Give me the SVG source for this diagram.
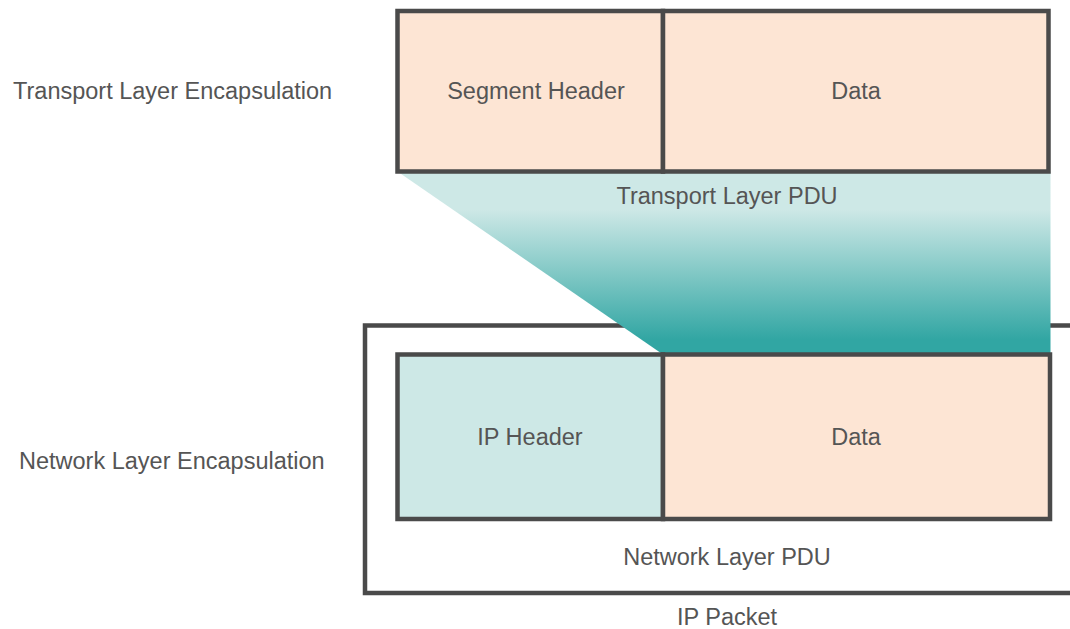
<svg xmlns="http://www.w3.org/2000/svg" width="1070" height="629" viewBox="0 0 1070 629">
  <style>
    .box { stroke: #4a4a4a; stroke-width: 4.5; }
    .peach { fill: #fde5d4; }
    .lteal { fill: #cde8e6; }
    .line { fill: none; stroke: #4a4a4a; stroke-width: 4.5; }
    text { font-family: "Liberation Sans", Arial, sans-serif; font-size: 23.5px; fill: #555555; }
    .c { text-anchor: middle; }
  </style>
  <defs>
    <linearGradient id="tealGrad" gradientUnits="userSpaceOnUse" x1="0" y1="210" x2="0" y2="340">
      <stop offset="0" stop-color="#cde8e6"/>
      <stop offset="1" stop-color="#31a6a3"/>
    </linearGradient>
  </defs>
  <rect width="1070" height="629" fill="#ffffff"/>

  <g id="ip-packet">
    <path class="line" d="M1072,325.5 H365 V593 H1072"/>
    <text class="c" x="727" y="625">IP Packet</text>
  </g>

  <g id="connectors">
    <polygon points="397.5,171.5 1050.5,171.5 1050.5,354.5 663,354.5" fill="url(#tealGrad)"/>
  </g>

  <g id="transport-label">
    <text x="13" y="99">Transport Layer Encapsulation</text>
  </g>
  <g id="network-label">
    <text x="19" y="469">Network Layer Encapsulation</text>
  </g>

  <g id="segment-header">
    <rect class="box peach" x="397.5" y="11" width="265.5" height="160.5"/>
    <text class="c" x="536" y="99">Segment Header</text>
  </g>
  <g id="segment-data">
    <rect class="box peach" x="663" y="11" width="385.5" height="160.5"/>
    <text class="c" x="856" y="99">Data</text>
  </g>
  <g id="transport-pdu">
    <text class="c" x="727" y="204">Transport Layer PDU</text>
  </g>

  <g id="ip-header">
    <rect class="box lteal" x="397.5" y="354.5" width="265.5" height="164.5"/>
    <text class="c" x="530" y="445">IP Header</text>
  </g>
  <g id="ip-data">
    <rect class="box peach" x="663" y="354.5" width="387" height="164.5"/>
    <text class="c" x="856" y="445">Data</text>
  </g>
  <g id="network-pdu">
    <text class="c" x="727" y="565">Network Layer PDU</text>
  </g>
</svg>
